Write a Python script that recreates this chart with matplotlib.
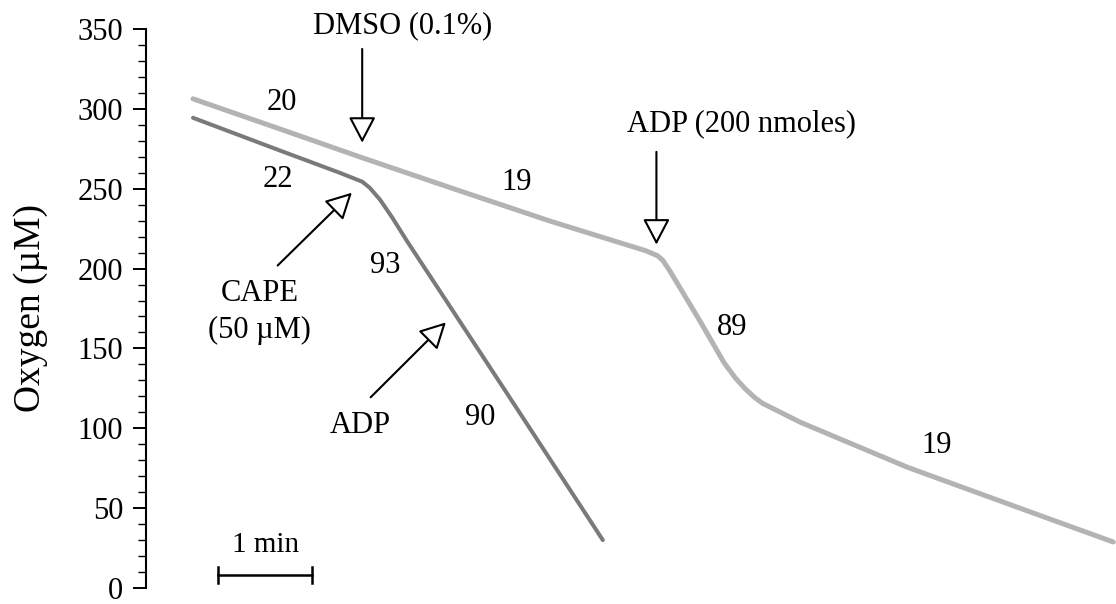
import matplotlib
matplotlib.use("Agg")
import matplotlib.pyplot as plt
from matplotlib.ticker import MultipleLocator

plt.rcParams['font.family'] = ['Liberation Serif', 'DejaVu Serif']

# control trace (DMSO then ADP), time in min, O2 in uM
t_ctrl = [0.50, 1.43, 2.30, 3.23, 4.30, 5.31, 5.44, 5.50, 5.57, 5.89,
          6.15, 6.27, 6.37, 6.47, 6.56, 6.75, 6.96, 8.10, 9.09, 10.29]
o2_ctrl = [306.3, 287.3, 269.4, 250.8, 229.7, 211.3, 208.1, 205.0, 198.8, 167.5,
           141.0, 131.5, 125.0, 119.5, 115.6, 110.0, 103.8, 75.6, 54.4, 28.8]

# CAPE trace
t_cape = [0.50, 1.43, 2.06, 2.30, 2.38, 2.49, 2.62, 2.78, 3.13, 3.84, 4.86]
o2_cape = [294.4, 273.8, 260.0, 254.4, 250.6, 243.1, 231.9, 216.9, 185.6, 121.9, 30.0]

# respiration rates written next to each segment
rate_text = ['20', '22', '19', '93', '90', '89', '19']
rate_x = [1.45, 1.40, 3.94, 2.54, 3.56, 6.24, 8.41]
rate_y = [303.8, 255.6, 253.8, 201.9, 106.9, 163.1, 89.4]

# additions: label, label position, arrow tail, arrow tip
add_text = ['DMSO (0.1%)', 'ADP (200 nmoles)', 'CAPE\n(50 µM)', 'ADP']
add_text_xy = [(2.73, 351.9), (6.33, 290.6), (1.21, 173.0), (2.28, 101.9)]
add_tail = [(2.30, 337.5), (5.43, 273.1), (1.40, 201.9), (2.39, 119.4)]
add_tip = [(2.30, 278.8), (5.43, 215.0), (2.19, 247.5), (3.19, 166.3)]

fig = plt.figure(figsize=(11.16, 6.04), dpi=100)
ax = fig.add_axes([146 / 1116, 16 / 604, 970 / 1116, 559 / 604])

ax.plot(t_ctrl, o2_ctrl, color='#b3b3b3', lw=3.6, solid_capstyle='round',
        solid_joinstyle='round', clip_on=False)
ax.plot(t_cape, o2_cape, color='#7a7a7a', lw=2.9, solid_capstyle='round',
        solid_joinstyle='round', clip_on=False)

for s, x, y in zip(rate_text, rate_x, rate_y):
    ax.text(x, y, s, fontsize=22, ha='center', va='center')

arrow = dict(arrowstyle='-|>,head_length=0.8,head_width=0.42', fc='white', ec='black',
             lw=1.5, mutation_scale=20, shrinkA=0, shrinkB=0)
for s, txy, tail, tip in zip(add_text, add_text_xy, add_tail, add_tip):
    ax.annotate('', xy=tip, xytext=tail, arrowprops=arrow, annotation_clip=False)
    ax.text(txy[0], txy[1], s, fontsize=22, ha='center', va='center',
            linespacing=1.35, clip_on=False)

# 1 min scale bar
ax.plot([0.77, 1.77], [8.1, 8.1], color='black', lw=1.8)
ax.plot([0.77, 0.77], [3.1, 13.1], color='black', lw=1.8)
ax.plot([1.77, 1.77], [3.1, 13.1], color='black', lw=1.8)
ax.text(1.27, 26.9, '1 min', fontsize=21, ha='center', va='center')

ax.set_xlim(0, 970 / 94)
ax.set_ylim(0, 350)
ax.yaxis.set_major_locator(MultipleLocator(50))
ax.yaxis.set_minor_locator(MultipleLocator(10))
ax.tick_params(axis='y', which='major', length=9.5, width=1.4, labelsize=22, pad=7)
ax.tick_params(axis='y', which='minor', length=5.8, width=1.0)
ax.get_xaxis().set_visible(False)
for side in ['top', 'right', 'bottom']:
    ax.spines[side].set_visible(False)
ax.spines['left'].set_linewidth(1.5)

ax.set_ylabel('Oxygen (µM)', fontsize=27, va='center')
ax.yaxis.set_label_coords(-115 / 970, 0.5)

fig.savefig('out.png', dpi=100)
